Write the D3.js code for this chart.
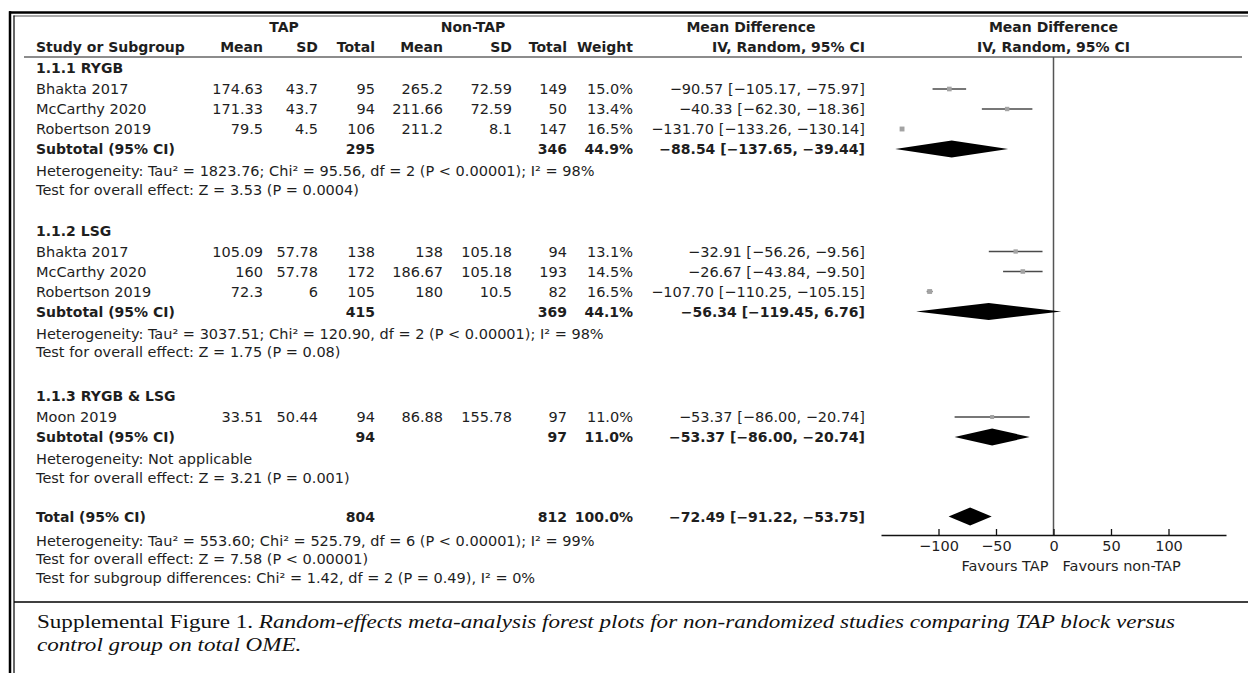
<!DOCTYPE html>
<html>
<head>
<meta charset="UTF-8">
<title>Forest plot - TAP vs non-TAP</title>
<script src="https://cdn.jsdelivr.net/npm/d3@7"></script>
<style>
  body { margin: 0; background: #fff; }
  text { font-family: "DejaVu Sans", Verdana, sans-serif; font-size: 14.5px; fill: #1e1e1e; }
  text.b { font-weight: bold; font-size: 14px; }
  text.cap { font-family: "Liberation Serif", "Times New Roman", serif; font-size: 18px; fill: #111; }
</style>
</head>
<body>
<script>
// ---- data ----
var groupNames = ["1.1.1 RYGB", "1.1.2 LSG", "1.1.3 RYGB & LSG"];

var studyNames = ["Bhakta 2017", "McCarthy 2020", "Robertson 2019",
                  "Bhakta 2017", "McCarthy 2020", "Robertson 2019",
                  "Moon 2019"];
var studyGroup = [0, 0, 0, 1, 1, 1, 2];
var tapMean = [174.63, 171.33, 79.5, 105.09, 160, 72.3, 33.51];
var tapSD   = [43.7, 43.7, 4.5, 57.78, 57.78, 6, 50.44];
var tapN    = [95, 94, 106, 138, 172, 105, 94];
var ctlMean = [265.2, 211.66, 211.2, 138, 186.67, 180, 86.88];
var ctlSD   = [72.59, 72.59, 8.1, 105.18, 105.18, 10.5, 155.78];
var ctlN    = [149, 50, 147, 94, 193, 82, 97];
var weight  = [15.0, 13.4, 16.5, 13.1, 14.5, 16.5, 11.0];
var md      = [-90.57, -40.33, -131.70, -32.91, -26.67, -107.70, -53.37];
var ciLo    = [-105.17, -62.30, -133.26, -56.26, -43.84, -110.25, -86.00];
var ciHi    = [-75.97, -18.36, -130.14, -9.56, -9.50, -105.15, -20.74];

var subTapN   = [295, 415, 94];
var subCtlN   = [346, 369, 97];
var subWeight = [44.9, 44.1, 11.0];
var subMd     = [-88.54, -56.34, -53.37];
var subLo     = [-137.65, -119.45, -86.00];
var subHi     = [-39.44, 6.76, -20.74];
var subHet  = ["Heterogeneity: Tau² = 1823.76; Chi² = 95.56, df = 2 (P < 0.00001); I² = 98%",
               "Heterogeneity: Tau² = 3037.51; Chi² = 120.90, df = 2 (P < 0.00001); I² = 98%",
               "Heterogeneity: Not applicable"];
var subTest = ["Test for overall effect: Z = 3.53 (P = 0.0004)",
               "Test for overall effect: Z = 1.75 (P = 0.08)",
               "Test for overall effect: Z = 3.21 (P = 0.001)"];

var totalTapN = 804, totalCtlN = 812, totalWeight = 100.0;
var totalMd = -72.49, totalLo = -91.22, totalHi = -53.75;
var totalNotes = ["Heterogeneity: Tau² = 553.60; Chi² = 525.79, df = 6 (P < 0.00001); I² = 99%",
                  "Test for overall effect: Z = 7.58 (P < 0.00001)",
                  "Test for subgroup differences: Chi² = 1.42, df = 2 (P = 0.49), I² = 0%"];

var axisTicks = [-100, -50, 0, 50, 100];
var favourLabels = ["Favours TAP", "Favours non-TAP"];
var captionLead = "Supplemental Figure 1. ";
var captionItalic1 = "Random-effects meta-analysis forest plots for non-randomized studies comparing TAP block versus";
var captionItalic2 = "control group on total OME.";

// ---- layout ----
var W = 1248, H = 673;
var col = {name: 36, tapMean: 263, tapSD: 318, tapN: 375, ctlMean: 443, ctlSD: 512,
           ctlN: 567, weight: 633, ci: 865};
var axisY = 535, topY = 57;
var groupGap = [41, 44, 39];   // space after each subgroup's last note line

var svg = d3.select("body").append("svg")
    .attr("width", W).attr("height", H);
svg.append("rect").attr("width", W).attr("height", H).attr("fill", "#fff");

var x = d3.scaleLinear().domain([-150, 150]).range([881, 1226]);

function num(v) { return (v < 0 ? "\u2212" : "") + Math.abs(v).toFixed(2); }
function ciText(m, l, h) { return num(m) + " [" + num(l) + ", " + num(h) + "]"; }
function pct(v) { return v.toFixed(1) + "%"; }

function txt(xp, yc, s, anchor, bold) {
  return svg.append("text")
      .attr("x", xp).attr("y", yc + 5)
      .attr("text-anchor", anchor || "start")
      .attr("class", bold ? "b" : null)
      .text(s);
}

// frame
svg.append("line").attr("x1", 9).attr("x2", W).attr("y1", 12.5).attr("y2", 12.5)
    .attr("stroke", "#000").attr("stroke-width", 2.5);
svg.append("line").attr("x1", 13.5).attr("x2", W).attr("y1", 16).attr("y2", 16)
    .attr("stroke", "#555").attr("stroke-width", 1.2);
svg.append("line").attr("x1", 10).attr("x2", 10).attr("y1", 11.3).attr("y2", H)
    .attr("stroke", "#000").attr("stroke-width", 2.5);
svg.append("line").attr("x1", 14).attr("x2", 14).attr("y1", 15.5).attr("y2", H)
    .attr("stroke", "#000").attr("stroke-width", 1.2);
svg.append("line").attr("x1", 14).attr("x2", W).attr("y1", 602).attr("y2", 602)
    .attr("stroke", "#000").attr("stroke-width", 1.5);

// header
txt(284, 27, "TAP", "middle", true);
txt(473, 27, "Non-TAP", "middle", true);
txt(751, 27, "Mean Difference", "middle", true);
txt(x(0), 27, "Mean Difference", "middle", true);
txt(col.name, 47, "Study or Subgroup", "start", true);
txt(col.tapMean, 47, "Mean", "end", true);
txt(col.tapSD, 47, "SD", "end", true);
txt(col.tapN, 47, "Total", "end", true);
txt(col.ctlMean, 47, "Mean", "end", true);
txt(col.ctlSD, 47, "SD", "end", true);
txt(col.ctlN, 47, "Total", "end", true);
txt(col.weight, 47, "Weight", "end", true);
txt(col.ci, 47, "IV, Random, 95% CI", "end", true);
txt(x(0), 47, "IV, Random, 95% CI", "middle", true);
svg.append("line").attr("x1", 24).attr("x2", 1242).attr("y1", topY).attr("y2", topY)
    .attr("stroke", "#666").attr("stroke-width", 1.5);

// zero line
svg.append("line").attr("x1", x(0)).attr("x2", x(0)).attr("y1", topY).attr("y2", axisY)
    .attr("stroke", "#555").attr("stroke-width", 1.5);

var sizeScale = d3.scaleSqrt().domain([0, 100]).range([0, 12]);

function diamond(yc, lo, m, hi, hh) {
  svg.append("path")
      .attr("d", "M" + x(lo) + "," + yc + "L" + x(m) + "," + (yc - hh) +
                 "L" + x(hi) + "," + yc + "L" + x(m) + "," + (yc + hh) + "Z")
      .attr("fill", "#000");
}

// groups
var y = 68;
groupNames.forEach(function(g, gi) {
  txt(col.name, y, g, "start", true);
  y += 21;
  studyNames.forEach(function(name, i) {
    if (studyGroup[i] !== gi) return;
    txt(col.name, y, name);
    txt(col.tapMean, y, String(tapMean[i]), "end");
    txt(col.tapSD, y, String(tapSD[i]), "end");
    txt(col.tapN, y, String(tapN[i]), "end");
    txt(col.ctlMean, y, String(ctlMean[i]), "end");
    txt(col.ctlSD, y, String(ctlSD[i]), "end");
    txt(col.ctlN, y, String(ctlN[i]), "end");
    txt(col.weight, y, pct(weight[i]), "end");
    txt(col.ci, y, ciText(md[i], ciLo[i], ciHi[i]), "end");
    svg.append("line").attr("x1", x(ciLo[i])).attr("x2", x(ciHi[i]))
        .attr("y1", y).attr("y2", y)
        .attr("stroke", "#4a4a4a").attr("stroke-width", 1.5);
    var s = sizeScale(weight[i]);
    svg.append("rect").attr("x", x(md[i]) - s / 2).attr("y", y - s / 2)
        .attr("width", s).attr("height", s).attr("fill", "#a3a3a3");
    y += 20;
  });
  txt(col.name, y, "Subtotal (95% CI)", "start", true);
  txt(col.tapN, y, String(subTapN[gi]), "end", true);
  txt(col.ctlN, y, String(subCtlN[gi]), "end", true);
  txt(col.weight, y, pct(subWeight[gi]), "end", true);
  txt(col.ci, y, ciText(subMd[gi], subLo[gi], subHi[gi]), "end", true);
  diamond(y, subLo[gi], subMd[gi], subHi[gi], 8.5);
  y += 22;
  txt(col.name, y, subHet[gi]);
  y += 18.5;
  txt(col.name, y, subTest[gi]);
  y += groupGap[gi];
});

// overall
txt(col.name, y, "Total (95% CI)", "start", true);
txt(col.tapN, y, String(totalTapN), "end", true);
txt(col.ctlN, y, String(totalCtlN), "end", true);
txt(col.weight, y, pct(totalWeight), "end", true);
txt(col.ci, y, ciText(totalMd, totalLo, totalHi), "end", true);
diamond(y, totalLo, totalMd, totalHi, 9);
y += 24;
totalNotes.forEach(function(s) { txt(col.name, y, s); y += 18.5; });

// axis
var ax = svg.append("g").attr("transform", "translate(0," + axisY + ")")
    .call(d3.axisBottom(x).tickValues(axisTicks).tickSizeInner(-6).tickSizeOuter(0).tickPadding(6));
ax.selectAll("path.domain").attr("stroke", "#111").attr("stroke-width", 1.4);
ax.selectAll(".tick line").attr("stroke", "#111").attr("stroke-width", 1.3);
ax.selectAll(".tick text").attr("font-family", null).attr("font-size", null).attr("fill", "#1e1e1e");
txt(x(0) - 5, 566, favourLabels[0], "end");
txt(x(0) + 9, 566, favourLabels[1], "start");

// caption
var cap1 = svg.append("text").attr("class", "cap").attr("x", 37).attr("y", 628);
cap1.append("tspan").text(captionLead);
cap1.append("tspan").attr("font-style", "italic").text(captionItalic1);
var nat = cap1.node().getComputedTextLength();
var ratio = (1175 - 37) / nat;
cap1.attr("textLength", 1175 - 37).attr("lengthAdjust", "spacingAndGlyphs");
var cap2 = svg.append("text").attr("class", "cap").attr("x", 37).attr("y", 651)
    .attr("font-style", "italic").text(captionItalic2);
var nat2 = cap2.node().getComputedTextLength();
cap2.attr("textLength", nat2 * ratio).attr("lengthAdjust", "spacingAndGlyphs");
</script>
</body>
</html>
